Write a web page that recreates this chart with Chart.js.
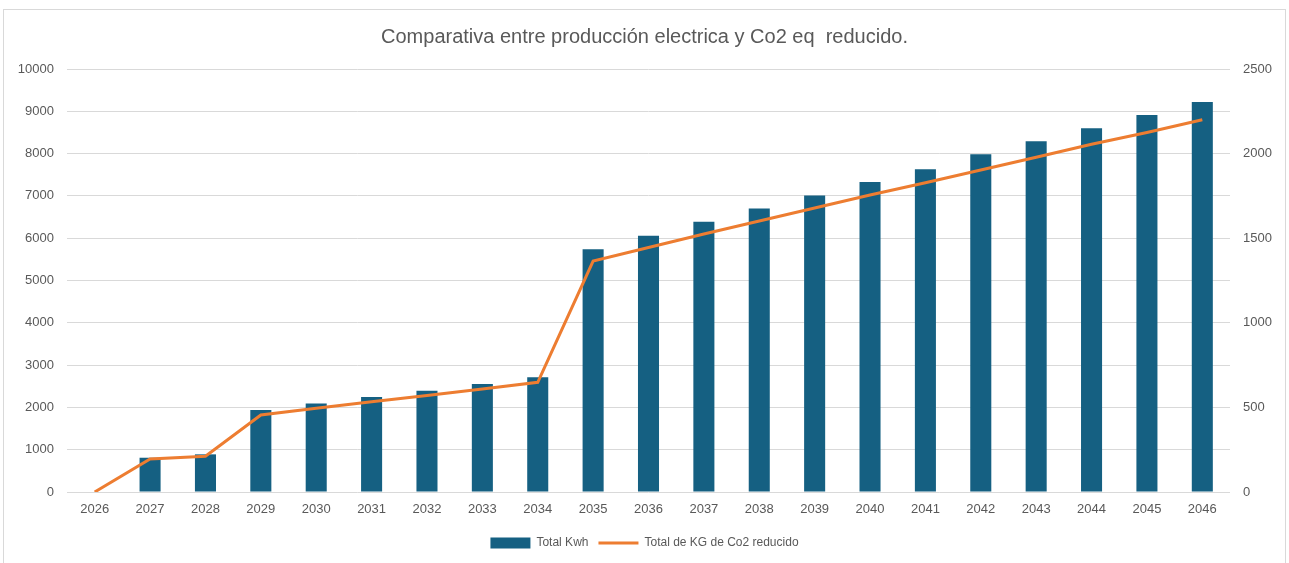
<!DOCTYPE html>
<html>
<head>
<meta charset="utf-8">
<script src="https://cdn.jsdelivr.net/npm/chart.js@4"></script>
<style>
  html, body { margin: 0; padding: 0; background: #ffffff; }
  #wrap { position: relative; width: 1289px; height: 563px; overflow: hidden; }
  #frame { position: absolute; left: 3px; top: 9px; width: 1283px; height: 560px; border: 1px solid #d9d9d9; box-sizing: border-box; }
  canvas { position: absolute; left: 0; top: 0; }
</style>
</head>
<body>
<div id="wrap">
  <div id="frame"></div>
  <canvas id="c" width="1289" height="563"></canvas>
</div>
<script>
const years = ["2026","2027","2028","2029","2030","2031","2032","2033","2034","2035","2036","2037","2038","2039","2040","2041","2042","2043","2044","2045","2046"];
const totalKwh = [0, 810, 890, 1940, 2090, 2245, 2395, 2555, 2710, 5740, 6055, 6390, 6705, 7010, 7330, 7630, 7985, 8290, 8600, 8915, 9220];
const totalCo2 = [0, 195, 211, 455, 495, 534, 571, 609, 648, 1365, 1445, 1525, 1602, 1678, 1755, 1828, 1903, 1978, 2055, 2125, 2200];
const chartTitle = "Comparativa entre producción electrica y Co2 eq  reducido.";
const seriesNames = ["Total Kwh", "Total de KG de Co2 reducido"];

const gray = "#595959";
const gridColor = "#d9d9d9";
const plain = (v) => String(v);

new Chart(document.getElementById("c"), {
  type: "bar",
  data: {
    labels: years,
    datasets: [
      {
        type: "bar",
        label: seriesNames[0],
        data: totalKwh,
        backgroundColor: "#156082",
        borderWidth: 0,
        barPercentage: 0.38,
        categoryPercentage: 1.0,
        yAxisID: "y",
        order: 2,
        pointStyle: "rect"
      },
      {
        type: "line",
        label: seriesNames[1],
        data: totalCo2,
        borderColor: "#ED7D31",
        backgroundColor: "#ED7D31",
        borderWidth: 3,
        pointRadius: 0,
        tension: 0,
        yAxisID: "y1",
        order: 1,
        pointStyle: "line"
      }
    ]
  },
  options: {
    responsive: false,
    animation: false,
    layout: { padding: { left: 0, right: 0, top: 0, bottom: 4 } },
    plugins: {
      title: {
        display: true,
        text: chartTitle,
        color: gray,
        font: { family: "'Liberation Sans Narrow', 'Liberation Sans', Arial, sans-serif", size: 20, weight: "normal" },
        padding: { top: 25, bottom: 20 },
        lineHeight: 1.2
      },
      legend: {
        position: "bottom",
        labels: {
          color: gray,
          font: { family: "'Liberation Sans Narrow', 'Liberation Sans', Arial, sans-serif", size: 12 },
          usePointStyle: true,
          pointStyleWidth: 40,
          boxWidth: 40,
          boxHeight: 11,
          padding: 10,
          sort: (a, b) => a.datasetIndex - b.datasetIndex
        }
      },
      tooltip: { enabled: false }
    },
    scales: {
      x: {
        offset: true,
        grid: { display: false, drawTicks: false },
        border: { display: false },
        ticks: { color: gray, font: { family: "'Liberation Sans', Arial, sans-serif", size: 13 }, padding: 10, maxRotation: 0, autoSkip: false },
        afterFit: (s) => { s.height = 35; }
      },
      y: {
        position: "left",
        min: 0,
        max: 10000,
        ticks: { stepSize: 1000, color: gray, font: { family: "'Liberation Sans', Arial, sans-serif", size: 13 }, padding: 13, callback: plain },
        grid: { color: gridColor, lineWidth: 1, drawTicks: false },
        border: { display: false },
        afterFit: (s) => { s.width = 67; }
      },
      y1: {
        position: "right",
        min: 0,
        max: 2500,
        ticks: { stepSize: 500, color: gray, font: { family: "'Liberation Sans', Arial, sans-serif", size: 13 }, padding: 13, callback: plain },
        grid: { drawOnChartArea: false, drawTicks: false },
        border: { display: false },
        afterFit: (s) => { s.width = 59; }
      }
    }
  }
});
</script>
</body>
</html>
